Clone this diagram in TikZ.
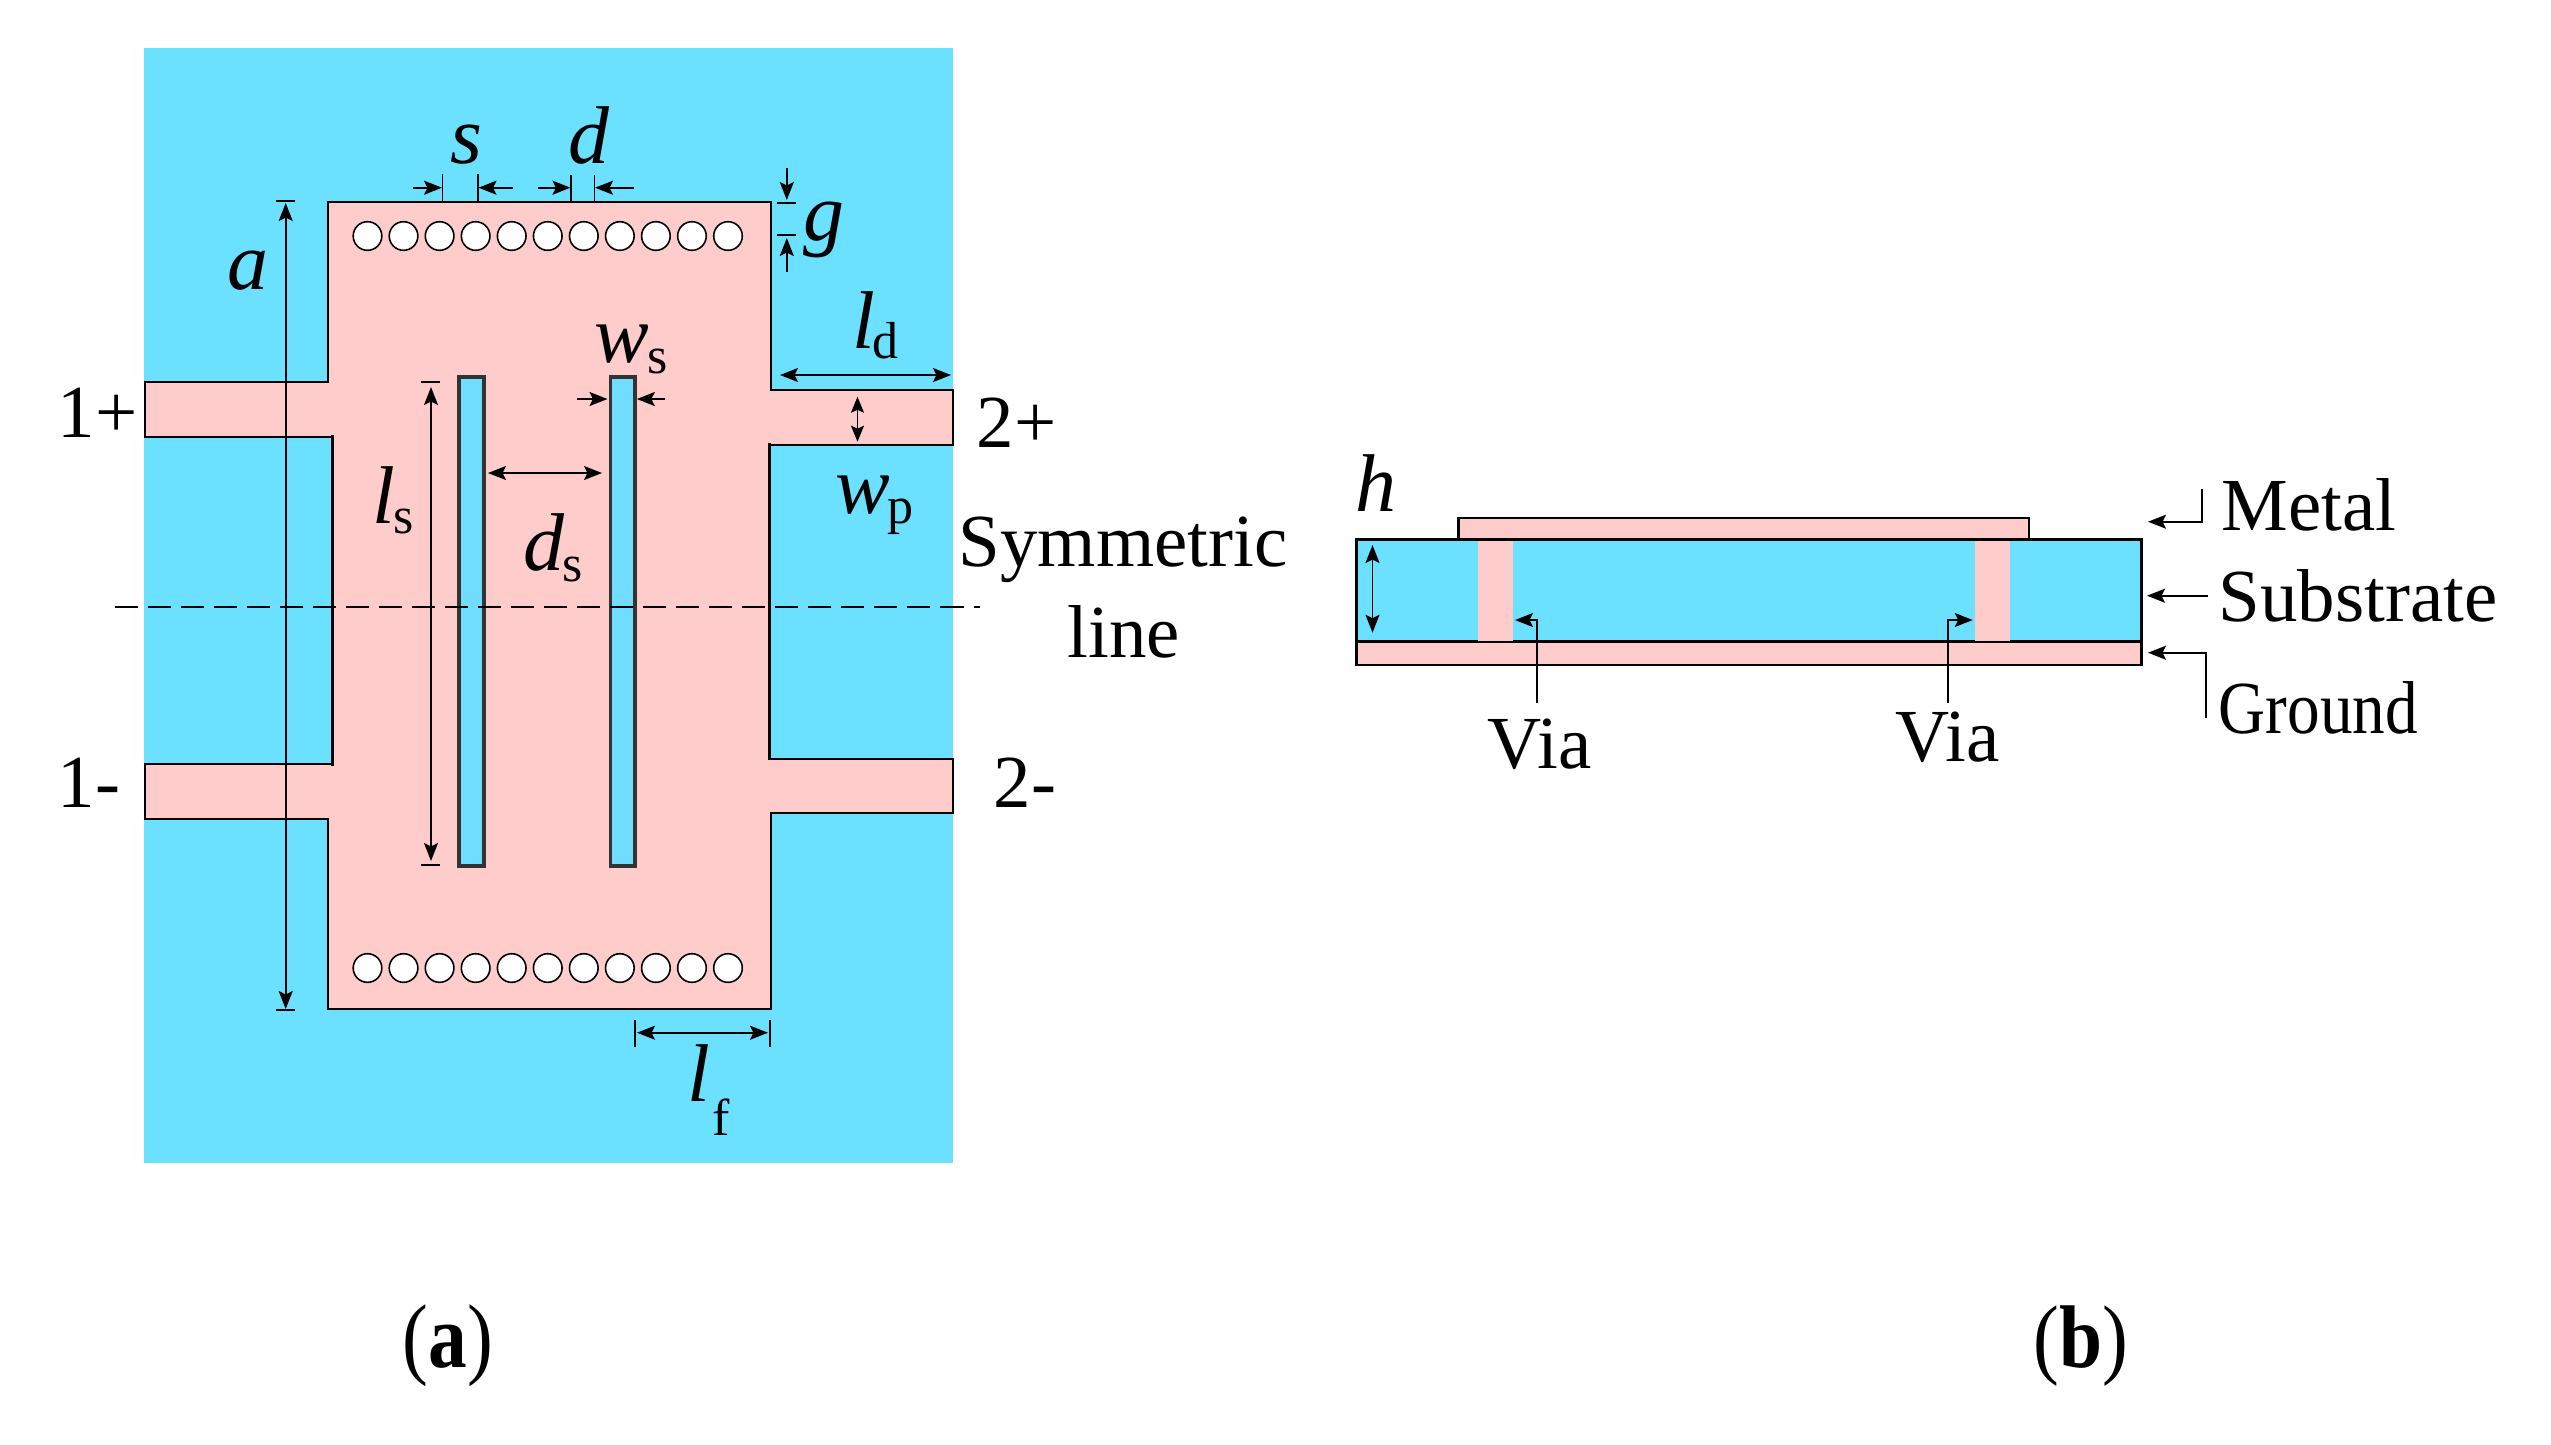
\documentclass[tikz,border=0pt]{standalone}
\usepackage{fontspec}
\setmainfont{Liberation Serif}
\usetikzlibrary{arrows.meta}
\definecolor{subblue}{RGB}{107,224,255}
\definecolor{slotblue}{RGB}{112,221,255}
\definecolor{metalpink}{RGB}{255,204,204}
\definecolor{slotedge}{RGB}{51,51,51}
\tikzset{
  x=0.01cm,y=-0.01cm,
  lab/.style={inner sep=0pt,anchor=base west,font=\fontsize{21.3}{24}\selectfont},
  varlab/.style={inner sep=0pt,anchor=base west,font=\fontsize{23.3}{26}\selectfont\itshape},
  sublab/.style={inner sep=0pt,anchor=base west,font=\fontsize{14.8}{17}\selectfont},
  captxt/.style={inner sep=0pt,anchor=base west,font=\fontsize{22}{26}\selectfont},
  edge1/.style={line width=0.02cm,line cap=rect},
  edge2/.style={line width=0.026cm,line cap=rect},
  edge3/.style={line width=0.034cm,line cap=rect},
  dimline/.style={line width=0.017cm},
  dimarrow/.style={dimline,-{Stealth[length=0.18cm,width=0.14cm,inset=0.035cm]}},
  dimboth/.style={dimline,{Stealth[length=0.18cm,width=0.14cm,inset=0.035cm]}-{Stealth[length=0.18cm,width=0.14cm,inset=0.035cm]}},
  ticka/.style={line width=0.017cm},
  barb/.style={line width=0.02cm},
  slotbox/.style={fill=slotblue,draw=slotedge,line width=0.035cm},
  hole/.style={fill=white,draw=black,line width=0.016cm},
  layerbox/.style={draw=black,line width=0.026cm},
}
\begin{document}
\begin{tikzpicture}
\useasboundingbox (0,0) rectangle (2551,1444);
% substrate
\fill[subblue] (144,48) rectangle (953,1163);
% patch
\fill[metalpink] (328,202) -- (771,202) -- (771,390) -- (953,390) -- (953,445) -- (769.6,445)
  -- (769.6,759) -- (953,759) -- (953,813) -- (771,813) -- (771,1009) -- (328,1009)
  -- (328,819) -- (145,819) -- (145,764) -- (332.5,764) -- (332.5,437) -- (145,437)
  -- (145,382) -- (328,382) -- cycle;
% patch outline
\draw[edge1] (328,202) -- (771,202) -- (771,390);
\draw[edge1] (771,390) -- (953,390) -- (953,445) -- (769.6,445);
\draw[edge3] (769.6,445) -- (769.6,612);
\draw[edge2] (769.6,612) -- (769.6,759);
\draw[edge1] (769.6,759) -- (953,759) -- (953,813) -- (771,813);
\draw[edge1] (771,813) -- (771,1009) -- (328,1009);
\draw[edge2] (328,1009) -- (328,819);
\draw[edge2] (328,819) -- (145,819) -- (145,764) -- (332.5,764);
\draw[edge3] (332.5,764) -- (332.5,437);
\draw[edge2] (332.5,437) -- (145,437) -- (145,382) -- (328,382) -- (328,202);
% slots
\draw[slotbox] (459,377) rectangle (484,866);
\draw[slotbox] (610.5,377) rectangle (635,866);
% via holes
\foreach \i in {0,...,10}{
  \draw[hole] ({367.5+36.05*\i},236) circle (0.143cm);
  \draw[hole] ({367.5+36.05*\i},968) circle (0.143cm);
}
% symmetric line
\draw[line width=0.023cm,dash pattern=on 0.23cm off 0.10cm] (115,607.3) -- (980,607.3);
% a
\draw[dimboth] (285.7,203) -- (285.7,1009);
\draw[barb] (276,201) -- (295,201);
\draw[barb] (276,1010) -- (295,1010);
% s
\draw[ticka] (442.5,174) -- (442.5,203);
\draw[ticka] (478,174) -- (478,203);
\draw[dimarrow] (413,187.7) -- (442,187.7);
\draw[dimarrow] (513,187.7) -- (478.5,187.7);
% d
\draw[ticka] (571,175) -- (571,203);
\draw[ticka] (594.6,175) -- (594.6,203);
\draw[dimarrow] (538,187.7) -- (570.5,187.7);
\draw[dimarrow] (633.6,187.7) -- (595,187.7);
% g
\draw[barb] (777,203) -- (796,203);
\draw[barb] (777,235) -- (796,235);
\draw[dimarrow] (786.8,168) -- (786.8,200);
\draw[dimarrow] (786.8,271.7) -- (786.8,238);
% ls
\draw[barb] (421,381.7) -- (440,381.7);
\draw[barb] (421,865) -- (440,865);
\draw[dimboth] (431,387) -- (431,861);
% ws
\draw[dimarrow] (577,399) -- (607.5,399);
\draw[dimarrow] (664.6,399) -- (636.8,399);
% ds
\draw[dimboth] (488,473) -- (602,473);
% ld
\draw[dimboth] (780,375) -- (951,375);
% wp
\draw[dimline,{Stealth[length=0.16cm,width=0.13cm,inset=0.03cm]}-{Stealth[length=0.16cm,width=0.13cm,inset=0.03cm]}] (857.5,396.7) -- (857.5,441.7);
% lf
\draw[ticka] (635,1020) -- (635,1046.5);
\draw[ticka] (770,1020) -- (770,1046.5);
\draw[dimboth] (637,1032.7) -- (768,1032.7);
% labels of (a)
\node[varlab] (ls1) at (450,163) {s};
\node[varlab] (ld1) at (568,163) {d};
\node[varlab] (la) at (227,289) {a};
\node[varlab] (lw) at (594,362) {w};
\node[sublab] (lws) at (647,373) {s};
\node[varlab] (lg) at (803,240) {g};
\node[varlab] (ll) at (852,348) {l};
\node[sublab] (lld) at (872,358) {d};
\node[varlab] (lwp) at (835,513) {w};
\node[sublab] (lwpp) at (887,523) {p};
\node[varlab] (lls) at (372,523) {l};
\node[sublab] (llss) at (393,533) {s};
\node[varlab] (lds) at (523,570) {d};
\node[sublab] (ldss) at (562,581) {s};
\node[varlab] (llf) at (687,1101) {l};
\node[sublab] (llff) at (712,1135) {f};
\node[lab] (p1p) at (57,437) {1+};
\node[lab] (p1m) at (57,807) {1-};
\node[lab] (p2p) at (976,447) {2+};
\node[lab] (p2m) at (993,807) {2-};
\node[lab] (sym) at (958,566) {Symmetric};
\node[lab] (lin) at (1067,657) {line};
% cross-section
\draw[layerbox,fill=metalpink] (1458.6,518) rectangle (2029,539.5);
\draw[layerbox,fill=subblue] (1356.5,539.7) rectangle (2141.6,641.7);
\draw[layerbox,fill=metalpink] (1356.5,641.7) rectangle (2141.6,665);
\fill[metalpink] (1478,541) rectangle (1513,640.5);
\fill[metalpink] (1975,541) rectangle (2010,640.5);
\draw[dimboth] (1372.5,545) -- (1372.5,632.7);
\draw[dimarrow] (1536.7,702.7) -- (1536.7,620) -- (1515,620);
\draw[dimarrow] (1947.8,703) -- (1947.8,620) -- (1972.7,620);
\draw[dimarrow] (2202,489) -- (2202,521.7) -- (2148,521.7);
\draw[dimarrow] (2208,595.7) -- (2147,595.7);
\draw[dimarrow] (2206,718) -- (2206,652.7) -- (2148,652.7);
\node[varlab] (lh) at (1355,511) {h};
\node[lab] (via1) at (1487,768) {Via};
\node[lab] (via2) at (1895,761.6) {Via};
\node[lab] (metal) at (2221,530) {Metal};
\node[lab] (subs) at (2218,621.7) {Substrate};
\node[lab] (grnd) at (2218,733) {\scalebox{0.87}[1]{Ground}};
% captions
\node[captxt] (capa) at (402,1367) {\scalebox{1}[1.17]{(\textbf{a})}};
\node[captxt] (capb) at (2033,1367) {\scalebox{1}[1.15]{(\textbf{b})}};
\end{tikzpicture}
\end{document}
